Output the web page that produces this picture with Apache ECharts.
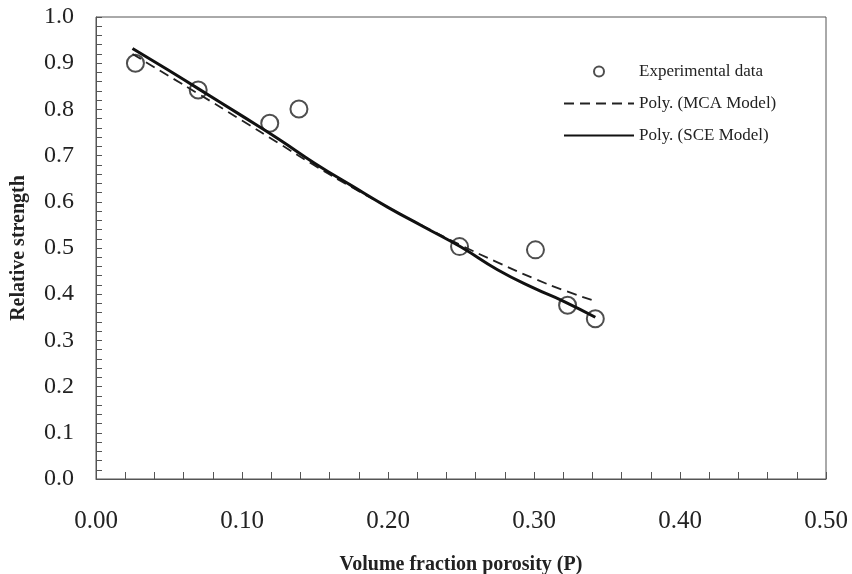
<!DOCTYPE html>
<html>
<head>
<meta charset="utf-8">
<script src="https://cdn.jsdelivr.net/npm/echarts@6/dist/echarts.min.js"></script>
<style>
html,body{margin:0;padding:0;background:#fff;}
#chart{width:852px;height:574px;}
</style>
</head>
<body>
<div id="chart"></div>
<script>
// Experimental data points
const expX = [0.027, 0.070, 0.119, 0.139, 0.249, 0.301, 0.323, 0.342];
const expY = [0.900, 0.842, 0.770, 0.801, 0.503, 0.496, 0.376, 0.347];

// Poly. (MCA Model) trendline samples
const mcaX = [0.025, 0.05, 0.07, 0.10, 0.125, 0.15, 0.175, 0.20, 0.225, 0.25, 0.275, 0.30, 0.32, 0.34];
const mcaY = [0.920, 0.872, 0.834, 0.776, 0.727, 0.678, 0.632, 0.588, 0.546, 0.506, 0.469, 0.434, 0.409, 0.387];

// Poly. (SCE Model) trendline samples
const sceX = [0.025, 0.05, 0.07, 0.10, 0.125, 0.15, 0.175, 0.20, 0.225, 0.25, 0.275, 0.30, 0.32, 0.342];
const sceY = [0.932, 0.884, 0.845, 0.786, 0.736, 0.683, 0.635, 0.588, 0.545, 0.502, 0.453, 0.413, 0.385, 0.350];

const seriesNames = ['Experimental data', 'Poly. (MCA Model)', 'Poly. (SCE Model)'];

const pairs = (xs, ys) => xs.map((x, i) => [x, ys[i]]);
const FONT = "'Liberation Serif', 'Times New Roman', serif";
const INK = '#222';

const chart = echarts.init(document.getElementById('chart'), null, {renderer: 'canvas'});
chart.setOption({
  animation: false,
  backgroundColor: '#fff',
  grid: {left: 96, top: 17, right: 26, bottom: 95, show: true, borderColor: '#555', borderWidth: 1,
         backgroundColor: 'transparent', containLabel: false, outerBoundsMode: 'none'},
  legend: {
    orient: 'vertical',
    left: 558,
    top: 58,
    itemWidth: 70,
    itemHeight: 10,
    itemGap: 15,
    data: [
      {name: seriesNames[0]},
      {name: seriesNames[1], itemStyle: {opacity: 0}},
      {name: seriesNames[2], itemStyle: {opacity: 0}}
    ],
    textStyle: {fontFamily: FONT, fontSize: 17, color: INK, lineHeight: 17}
  },
  xAxis: {
    type: 'value',
    min: 0, max: 0.5, interval: 0.1,
    name: 'Volume fraction porosity (P)',
    nameLocation: 'middle',
    nameGap: 76,
    nameTextStyle: {fontFamily: FONT, fontSize: 20, fontWeight: 'bold', color: INK},
    axisLine: {show: true, lineStyle: {color: '#555', width: 1}},
    axisTick: {show: true, inside: true, length: 7, lineStyle: {color: '#555'}},
    minorTick: {show: true, splitNumber: 5, length: 7, lineStyle: {color: '#555'}},
    splitLine: {show: false},
    axisLabel: {fontFamily: FONT, fontSize: 25, color: INK, margin: 30, formatter: v => v.toFixed(2)}
  },
  yAxis: {
    type: 'value',
    min: 0, max: 1, interval: 0.1,
    name: 'Relative strength',
    nameLocation: 'middle',
    nameGap: 67,
    nameTextStyle: {fontFamily: FONT, fontSize: 20, fontWeight: 'bold', color: INK},
    axisLine: {show: true, lineStyle: {color: '#555', width: 1}},
    axisTick: {show: true, inside: true, length: 6, lineStyle: {color: '#555'}},
    minorTick: {show: true, splitNumber: 5, length: 6, lineStyle: {color: '#555'}},
    splitLine: {show: false},
    axisLabel: {fontFamily: FONT, fontSize: 24, color: INK, margin: 22, padding: [6, 0, 0, 0], formatter: v => v.toFixed(1)}
  },
  series: [
    {
      name: seriesNames[0],
      type: 'scatter',
      symbol: 'emptyCircle',
      symbolSize: 17,
      itemStyle: {color: INK, borderColor: INK, borderWidth: 2},
      data: pairs(expX, expY),
      z: 2
    },
    {
      name: seriesNames[1],
      type: 'line',
      smooth: true,
      symbol: 'none',
      showSymbol: false,
      lineStyle: {color: INK, width: 1.8, type: [10, 6]},
      itemStyle: {color: INK},
      data: pairs(mcaX, mcaY),
      z: 3
    },
    {
      name: seriesNames[2],
      type: 'line',
      smooth: true,
      symbol: 'none',
      showSymbol: false,
      lineStyle: {color: '#111', width: 3},
      itemStyle: {color: '#111'},
      data: pairs(sceX, sceY),
      z: 4
    }
  ]
});
</script>
</body>
</html>
